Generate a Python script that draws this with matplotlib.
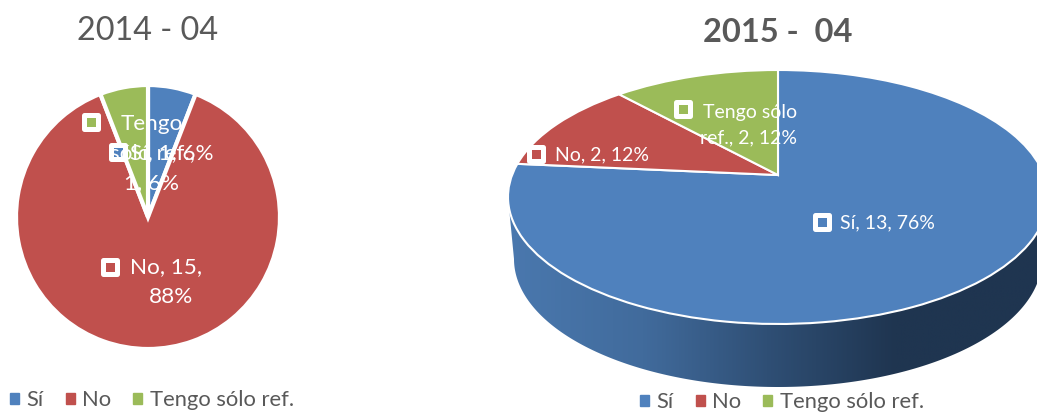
import numpy as np
import matplotlib
matplotlib.use('Agg')
import matplotlib.pyplot as plt
from matplotlib.colors import LinearSegmentedColormap
from matplotlib.markers import MarkerStyle
from matplotlib.patches import Patch
from matplotlib.transforms import Transform

plt.rcParams['font.family'] = ['Lato', 'DejaVu Sans']

categorias = ['Sí', 'No', 'Tengo sólo ref.']
valores_2014 = [1, 15, 1]
valores_2015 = [13, 2, 2]
porcentajes_2014 = [6, 88, 6]
porcentajes_2015 = [76, 12, 12]
colores = ['#4f81bd', '#c0504d', '#9bbb59']

W, H = 1037, 412
fig = plt.figure(figsize=(W / 100, H / 100), dpi=100, facecolor='white')


class Perspectiva(Transform):
    # lleva el circulo unidad a si mismo, pero corre el centro hacia arriba
    input_dims = 2
    output_dims = 2

    def __init__(self, c):
        super().__init__()
        self.c = c

    def transform_non_affine(self, xy):
        xy = np.asarray(xy, dtype=float)
        d = 1 + self.c * xy[:, 1]
        return np.column_stack([xy[:, 0] * np.sqrt(1 - self.c ** 2) / d, (xy[:, 1] + self.c) / d])


def ejes_px(x0, y0, x1, y1, **kw):
    # ejes dados en pixeles de la imagen (y hacia abajo)
    return fig.add_axes([x0 / W, 1 - y1 / H, (x1 - x0) / W, (y1 - y0) / H], **kw)


def pastel(ax, valores, lw, c=None):
    wedges, _ = ax.pie(valores, colors=colores, startangle=90, counterclock=False, radius=1,
                       wedgeprops=dict(edgecolor='white', linewidth=lw))
    ax.set_aspect('auto')
    ax.set_xlim(-1, 1)
    ax.set_ylim(-1, 1)
    ax.axis('off')
    for p in wedges:
        p.set_clip_on(False)
        if c is not None:
            p.set_transform(Perspectiva(c) + ax.transData)


# capa de fondo en pixeles, para el costado del pastel 3D
fondo = ejes_px(0, 0, W, H)
cx, cy, rx, ry = 778, 197, 270, 127
cy2, rx2, ry2 = 259, 264, 128
t = np.linspace(0, np.pi, 300)
px = np.r_[cx + rx * np.cos(t), cx + rx2 * np.cos(t[::-1])]
py = np.r_[cy + ry * np.sin(t), cy2 + ry2 * np.sin(t[::-1])]
borde, = fondo.fill(px, py, color='none', lw=0)
cmap = LinearSegmentedColormap.from_list('lado', [(0, '#4a78ae'), (0.25, '#416b9c'), (0.48, '#2f4f75'),
                                                  (0.72, '#1f3550'), (1, '#1f3550')])
img = fondo.imshow(np.linspace(0, 1, 400)[None, :], cmap=cmap, aspect='auto', vmin=0, vmax=1,
                   extent=(cx - rx, cx + rx, cy2 + ry2, cy))
img.set_clip_path(borde)
fondo.set_xlim(0, W)
fondo.set_ylim(H, 0)
fondo.axis('off')

ax1 = ejes_px(16, 85, 280, 349)
pastel(ax1, valores_2014, 3)
ax2 = ejes_px(cx - rx, cy - ry, cx + rx, cy + ry)
pastel(ax2, valores_2015, 1.5, c=0.173)

# capa de textos en pixeles
top = ejes_px(0, 0, W, H)
top.set_xlim(0, W)
top.set_ylim(H, 0)
top.axis('off')
top.patch.set_alpha(0)

gris = '#595959'
top.text(148, 31, '2014 - 04', ha='center', va='center', fontsize=23.3, color=gris)
top.text(778, 32, '2015 -  04', ha='center', va='center', fontsize=23.5, color=gris, fontweight='bold')


def marca(x, y, color):
    top.plot([x], [y], marker=MarkerStyle('s', joinstyle='round'), ms=9.6, mfc=color, mec='white',
             mew=3.6, ls='none')


def etiqueta(x, y, txt, ha='left', size=14):
    top.text(x, y, txt, ha=ha, va='center', fontsize=size, color='white')


marca(91, 122, colores[2])
etiqueta(152, 124, 'Tengo', 'center', 16.2)
etiqueta(152, 153, 'sólo ref.,', 'center', 16.2)
etiqueta(152, 183, f'{valores_2014[2]}, {porcentajes_2014[2]}%', 'center', 16.2)
marca(118, 152, colores[0])
etiqueta(130, 153, f'{categorias[0]}, {valores_2014[0]}, {porcentajes_2014[0]}%', size=16.2)
marca(110, 267, colores[1])
etiqueta(130, 267, f'{categorias[1]}, {valores_2014[1]},', size=16.2)
etiqueta(171, 297, f'{porcentajes_2014[1]}%', 'center', 16.2)

marca(822, 222, colores[0])
etiqueta(840, 223, f'{categorias[0]}, {valores_2015[0]}, {porcentajes_2015[0]}%')
marca(536, 154, colores[1])
etiqueta(555, 155, f'{categorias[1]}, {valores_2015[1]}, {porcentajes_2015[1]}%')
marca(683, 109, colores[2])
etiqueta(703, 112, 'Tengo sólo')
etiqueta(700, 138, f'ref., {valores_2015[2]}, {porcentajes_2015[2]}%')

handles = [Patch(color=c, label=n) for c, n in zip(colores, categorias)]
for x0, y0 in [(10, 400), (640, 402)]:
    fig.legend(handles=handles, ncol=3, frameon=False, loc='center left',
               bbox_to_anchor=(x0 / W, 1 - y0 / H), borderaxespad=0, borderpad=0,
               fontsize=15.8, labelcolor=gris, handlelength=0.4, handleheight=0.4,
               handletextpad=0.36, columnspacing=1.0)

fig.savefig('out.png', dpi=100)
